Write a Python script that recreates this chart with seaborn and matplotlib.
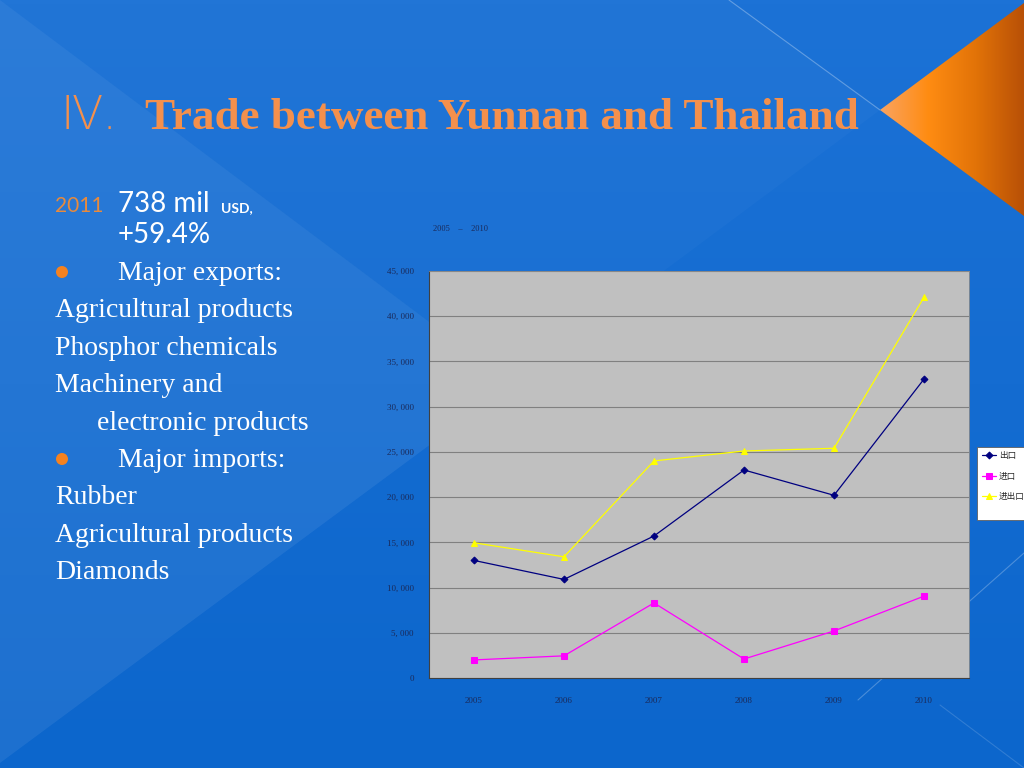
import numpy as np
import pandas as pd
import matplotlib
matplotlib.use("Agg")
import matplotlib.pyplot as plt
from matplotlib.patches import Polygon, Circle, Rectangle
from matplotlib.colors import LinearSegmentedColormap
from matplotlib.ticker import FixedLocator, FuncFormatter
import seaborn as sns

# chart data (values in 10k USD)
years = ["2005", "2006", "2007", "2008", "2009", "2010"]
exports = [13000, 10900, 15700, 23000, 20200, 33050]
imports = [2000, 2450, 8300, 2100, 5200, 9050]
total = [14950, 13400, 24000, 25100, 25400, 42100]
series_names = ["出口", "进口", "进出口"]
y_ticks = list(range(0, 45001, 5000))

# slide text
title_num = "Ⅳ."
title = "Trade between Yunnan and Thailand"
bullet_lines = [
    (None, "Major exports:"),
    ("Agricultural products", None),
    ("Phosphor chemicals", None),
    ("Machinery and", None),
    ("      electronic products", None),
    (None, "Major imports:"),
    ("Rubber", None),
    ("Agricultural products", None),
    ("Diamonds", None),
]

sns.set_style("white")
plt.rcParams["font.family"] = ["Liberation Serif", "DejaVu Serif"]

fig = plt.figure(figsize=(10.24, 7.68), dpi=100)

# ---- slide background ----
bg = fig.add_axes([0, 0, 1, 1])
blue = LinearSegmentedColormap.from_list("blue", ["#1c72d6", "#0c66cc"])
bg.imshow(np.linspace(0, 1, 256).reshape(-1, 1), cmap=blue,
          extent=[0, 1024, 768, 0], aspect="auto", zorder=0)
bg.add_patch(Polygon([(0, 0), (512, 384), (0, 763)], closed=True,
                     facecolor="white", alpha=0.07, edgecolor="none", zorder=1))
bg.add_patch(Polygon([(0, 0), (729, 0), (880, 110), (512, 384)], closed=True,
                     facecolor="white", alpha=0.025, edgecolor="none", zorder=1))
bg.plot([729, 880], [0, 110], color="white", alpha=0.3, lw=0.8, zorder=1)
bg.plot([1024, 858], [553, 700], color="white", alpha=0.25, lw=0.8, zorder=1)
bg.plot([940, 1024], [705, 768], color="white", alpha=0.15, lw=0.8, zorder=1)

tri = Polygon([(880, 110), (1024, 3), (1024, 216)], closed=True,
              facecolor="none", edgecolor="none")
bg.add_patch(tri)
orange = LinearSegmentedColormap.from_list("orange", ["#f9a462", "#ff8c12", "#e27308", "#b85006"])
im = bg.imshow(np.linspace(0, 1, 256).reshape(1, -1), cmap=orange,
               extent=[880, 1024, 216, 3], aspect="auto", zorder=2)
im.set_clip_path(tri)

# white box behind the chart legend
bg.add_patch(Rectangle((977, 447), 60, 73, facecolor="white", edgecolor="#606060",
                       linewidth=0.6, zorder=3))
bg.set_xlim(0, 1024)
bg.set_ylim(768, 0)
bg.axis("off")

# title
bg.text(60, 129, title_num, color="#f4904c", fontsize=33, va="baseline",
        family=["DejaVu Sans"], fontweight="light")
bg.text(145, 129, title, color="#f4904c", fontsize=32.5, fontweight="bold",
        va="baseline", family="Liberation Serif")

# left text block
bg.text(55, 212, "2011", color="#e88a3c", fontsize=15, va="baseline",
        family=["Lato", "DejaVu Sans"])
bg.text(118, 212, "738 mil", color="white", fontsize=20, va="baseline",
        family=["Lato", "DejaVu Sans"])
bg.text(221, 212, "USD,", color="white", fontsize=10, va="baseline",
        family=["Lato", "DejaVu Sans"], fontweight="bold")
bg.text(118, 243, "+59.4%", color="white", fontsize=20, va="baseline",
        family=["Lato", "DejaVu Sans"])

y0, dy = 280, 37.4
for i, (plain, bullet) in enumerate(bullet_lines):
    yb = y0 + i * dy
    if bullet:
        bg.add_patch(Circle((62, yb - 8), 6, facecolor="#f58220", edgecolor="none", zorder=3))
        bg.text(118, yb, bullet, color="white", fontsize=20, va="baseline")
    else:
        bg.text(55, yb, plain, color="white", fontsize=20, va="baseline")

bg.text(433, 231, "2005    –    2010", color="#1a2a5a", fontsize=6, va="baseline")

# ---- chart ----
ax = fig.add_axes([429 / 1024, 1 - 678 / 768, 540 / 1024, 407 / 768])
ax.set_zorder(2)
ax.set_facecolor("#c0c0c0")
xpos = np.arange(len(years))
df = pd.DataFrame({"x": xpos, "exports": exports, "imports": imports, "total": total})

styles = [("exports", "#000080", "D", 3.5), ("imports", "#ff00ff", "s", 5), ("total", "#ffff00", "^", 5)]
for (col, color, mk, ms), name in zip(styles, series_names):
    sns.lineplot(data=df, x="x", y=col, ax=ax, color=color, marker=mk, markersize=ms,
                 markeredgecolor=color, linewidth=0.9, label=name)

ax.set_xlim(-0.5, len(years) - 0.5)
ax.set_ylim(0, 45000)
ax.yaxis.set_major_locator(FixedLocator(y_ticks))
ax.yaxis.set_major_formatter(FuncFormatter(lambda v, p: f"{int(v):,}".replace(",", ", ")))
ax.set_xticks(xpos)
ax.set_xticklabels(years)
ax.xaxis.set_minor_locator(FixedLocator(np.arange(0.5, len(years) - 1, 1)))
ax.tick_params(axis="x", which="major", length=0, pad=14, labelsize=6.5, labelcolor="#1a2a5a")
ax.tick_params(axis="x", which="minor", direction="in", length=4, width=0.6, color="#404040")
ax.tick_params(axis="y", which="major", direction="out", length=5, width=0.6, color="#404040",
               pad=6, labelsize=6.5, labelcolor="#1a2a5a")
ax.set_xlabel("")
ax.set_ylabel("")
ax.grid(axis="y", color="#808080", linewidth=0.8)
ax.grid(axis="x", visible=False)
for side in ["top", "right"]:
    ax.spines[side].set_color("#8a8a8a")
    ax.spines[side].set_linewidth(0.6)
for side in ["left", "bottom"]:
    ax.spines[side].set_color("#404040")
    ax.spines[side].set_linewidth(0.8)

leg = ax.legend(loc="upper left", bbox_to_anchor=(979 / 1024, 1 - 448 / 768),
                bbox_transform=fig.transFigure, prop={"family": ["Noto Sans CJK SC"], "size": 6.2},
                frameon=False, borderpad=0.4, handlelength=1.6,
                handletextpad=0.3, labelspacing=1.3, borderaxespad=0)

fig.savefig("out.png", dpi=100)
